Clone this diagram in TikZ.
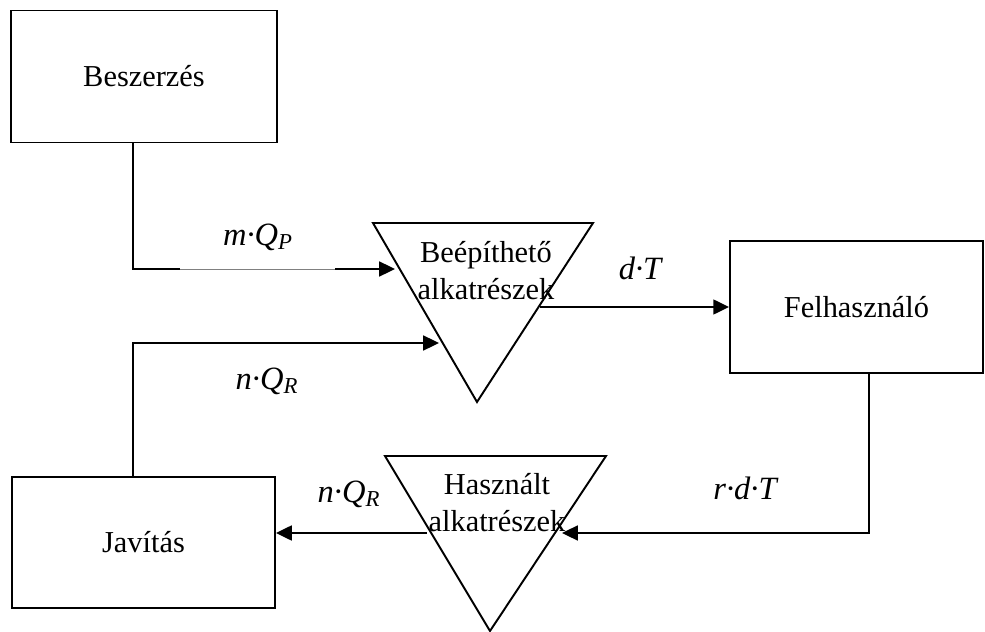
\documentclass[tikz,border=0pt]{standalone}
\usepackage{fontspec}
\setmainfont{Liberation Serif}
\usetikzlibrary{arrows.meta}

\tikzset{
    box/.style={draw, line width=1.1pt, minimum width=#1, minimum height=2.64cm, inner sep=0pt},
    tri/.style={draw, line width=1.1pt, line join=miter},
    flow/.style={line width=1.1pt, -{Triangle[length=9pt, width=8.5pt]}},
    lbl/.style={font=\itshape\fontsize{18.5}{21}\selectfont, inner sep=0pt}
}

\begin{document}
\begin{tikzpicture}[x=0.02cm, y=-0.02cm, font=\fontsize{17.3}{21}\selectfont]
    \useasboundingbox (0,0) rectangle (985,632);

    % boxes
    \node[box=5.32cm] (besz) at (144,76.5) {Beszerzés};
    \node[box=5.06cm] (felh) at (856.5,307) {Felhasználó};
    \node[box=5.26cm, minimum height=2.62cm] (jav) at (143.5,542.5) {Javítás};

    % stock triangles
    \draw[tri] (373,223) -- (593,223) -- (477,402) -- cycle;
    \node[align=center, inner sep=0pt] (beep) at (486,271) {Beépíthető\\alkatrészek};
    \draw[tri] (385,456) -- (606,456) -- (490,631) -- cycle;
    \node[align=center, inner sep=0pt] (hasz) at (497,503) {Használt\\alkatrészek};

    % points on the triangle edges
    \coordinate (beepin1) at (395,269);
    \coordinate (beepin2) at (439,343);
    \coordinate (beepout) at (540,307);
    \coordinate (haszin) at (562,533);
    \coordinate (haszout) at (427,533);

    % flows
    \draw[flow] ([xshift=-0.22cm]besz.south) |- (beepin1);
    \draw[white, line width=1.4pt] (180,269) -- (335,269);
    \draw[gray, line width=0.4pt] (180,269) -- (335,269);
    \draw[flow] ([xshift=-0.21cm]jav.north) |- (beepin2);
    \draw[flow] (beepout) -- (beepout -| felh.west);
    \draw[flow] ([xshift=0.25cm]felh.south) |- (haszin);
    \draw[flow] (haszout) -- (haszout -| jav.east);

    % flow labels
    \node[lbl] (mqp) at (258,237) {m·Q\textsubscript{P}};
    \node[lbl] (dt) at (640,268) {d·T};
    \node[lbl] (nqr1) at (267,381) {n·Q\textsubscript{R}};
    \node[lbl] (nqr2) at (349,494) {n·Q\textsubscript{R}};
    \node[lbl] (rdt) at (745,488) {r·d·T};
\end{tikzpicture}
\end{document}
